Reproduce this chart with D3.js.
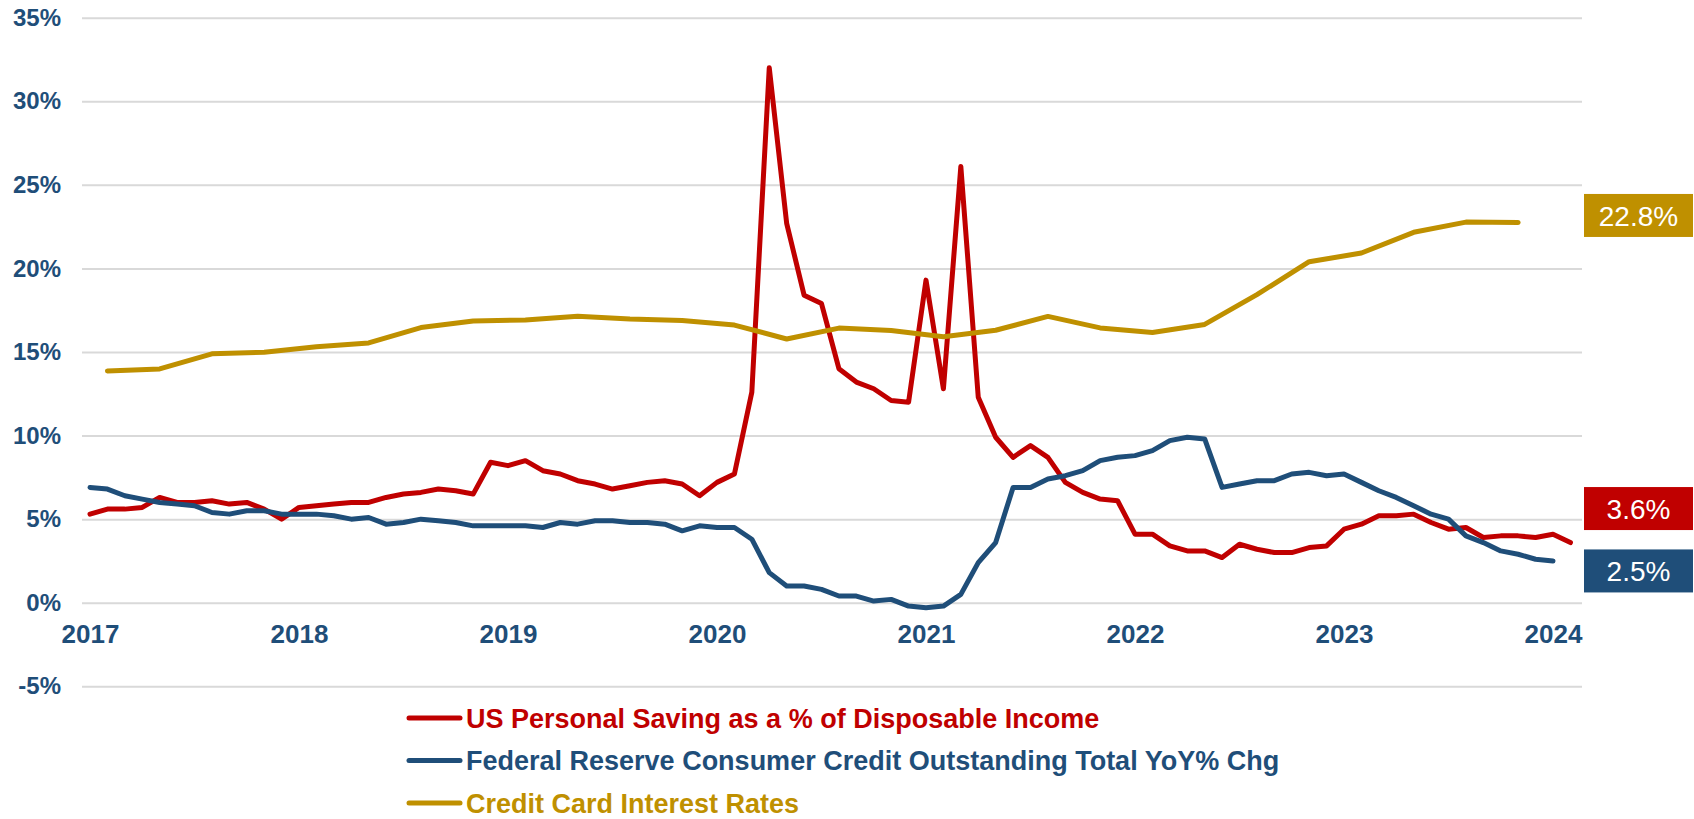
<!DOCTYPE html>
<html>
<head>
<meta charset="utf-8">
<script src="https://cdn.jsdelivr.net/npm/d3@7"></script>
<style>
  body { margin: 0; background: #fff; }
  svg { display: block; font-family: "Liberation Sans", Arial, sans-serif; }
</style>
</head>
<body>
<div id="chart"></div>
<script>
// monthly categories, Jan 2017 .. Feb 2024
const months = d3.utcMonth
    .range(new Date(Date.UTC(2017, 0, 1)), new Date(Date.UTC(2024, 2, 1)))
    .map(d3.utcFormat("%Y-%m"));

const yearTicks = ["2017-01", "2018-01", "2019-01", "2020-01", "2021-01", "2022-01", "2023-01", "2024-01"];
const yTicks = [-5, 0, 5, 10, 15, 20, 25, 30, 35];

// US personal saving rate, % of disposable income (Jan 2017 .. Feb 2024)
const savingRate = [
    5.3, 5.6, 5.6, 5.7, 6.3, 6.0, 6.0, 6.1, 5.9, 6.0, 5.6, 5.0,
    5.7, 5.8, 5.9, 6.0, 6.0, 6.3, 6.5, 6.6, 6.8, 6.7, 6.5, 8.4,
    8.2, 8.5, 7.9, 7.7, 7.3, 7.1, 6.8, 7.0, 7.2, 7.3, 7.1, 6.4,
    7.2, 7.7, 12.6, 32.0, 22.7, 18.4, 17.9, 14.0, 13.2, 12.8, 12.1, 12.0,
    19.3, 12.8, 26.1, 12.3, 9.9, 8.7, 9.4, 8.7, 7.2, 6.6, 6.2, 6.1,
    4.1, 4.1, 3.4, 3.1, 3.1, 2.7, 3.5, 3.2, 3.0, 3.0, 3.3, 3.4,
    4.4, 4.7, 5.2, 5.2, 5.3, 4.8, 4.4, 4.5, 3.9, 4.0, 4.0, 3.9,
    4.1, 3.6
];

// Fed consumer credit outstanding, total, YoY % (Jan 2017 .. Jan 2024)
const creditGrowth = [
    6.9, 6.8, 6.4, 6.2, 6.0, 5.9, 5.8, 5.4, 5.3, 5.5, 5.5, 5.3,
    5.3, 5.3, 5.2, 5.0, 5.1, 4.7, 4.8, 5.0, 4.9, 4.8, 4.6, 4.6,
    4.6, 4.6, 4.5, 4.8, 4.7, 4.9, 4.9, 4.8, 4.8, 4.7, 4.3, 4.6,
    4.5, 4.5, 3.8, 1.8, 1.0, 1.0, 0.8, 0.4, 0.4, 0.1, 0.2, -0.2,
    -0.3, -0.2, 0.5, 2.4, 3.6, 6.9, 6.9, 7.4, 7.6, 7.9, 8.5, 8.7,
    8.8, 9.1, 9.7, 9.9, 9.8, 6.9, 7.1, 7.3, 7.3, 7.7, 7.8, 7.6,
    7.7, 7.2, 6.7, 6.3, 5.8, 5.3, 5.0, 4.0, 3.6, 3.1, 2.9, 2.6,
    2.5
];

// credit card interest rates, quarterly
const cardRateMonths = [
    "2017-02", "2017-05", "2017-08", "2017-11", "2018-02", "2018-05", "2018-08", "2018-11",
    "2019-02", "2019-05", "2019-08", "2019-11", "2020-02", "2020-05", "2020-08", "2020-11",
    "2021-02", "2021-05", "2021-08", "2021-11", "2022-02", "2022-05", "2022-08", "2022-11",
    "2023-02", "2023-05", "2023-08", "2023-11"
];
const cardRate = [
    13.87, 13.99, 14.89, 14.99, 15.32, 15.54, 16.46, 16.86,
    16.91, 17.14, 16.97, 16.88, 16.61, 15.78, 16.43, 16.28,
    15.91, 16.30, 17.13, 16.44, 16.17, 16.65, 18.43, 20.40,
    20.92, 22.16, 22.77, 22.75
];

const seriesNames = [
    "US Personal Saving as a % of Disposable Income",
    "Federal Reserve Consumer Credit Outstanding Total YoY% Chg",
    "Credit Card Interest Rates"
];
const seriesColors = ["#C00000", "#1F4E79", "#BF9000"];
const endLabels = ["3.6%", "2.5%", "22.8%"];

const axisColor = "#1F4E79";
const W = 1694, H = 819;

const svg = d3.select("#chart").append("svg")
    .attr("width", W).attr("height", H);

const plotLeft = 82, plotRight = 1582;
const x = d3.scalePoint().domain(months).range([90, 90 + 85 * 209 / 12]);
const y = d3.scaleLinear().domain([-5, 35]).range([686.3, 17.7]);

// horizontal gridlines + y labels
const yAxis = svg.append("g")
    .attr("transform", `translate(${plotLeft},0)`)
    .call(d3.axisLeft(y).tickValues(yTicks)
        .tickSize(-(plotRight - plotLeft)).tickPadding(21)
        .tickFormat(d => d + "%"));
yAxis.select(".domain").remove();
yAxis.selectAll(".tick line").attr("stroke", "#d9d9d9").attr("stroke-width", 2);
yAxis.selectAll(".tick text")
    .attr("fill", axisColor).style("font-size", "24px").style("font-weight", "bold");

// year labels under the zero line
const xAxis = svg.append("g")
    .attr("transform", `translate(0,${y(0)})`)
    .call(d3.axisBottom(x).tickValues(yearTicks).tickSize(0).tickPadding(22)
        .tickFormat(d => d.slice(0, 4)));
xAxis.select(".domain").remove();
xAxis.selectAll(".tick text")
    .attr("fill", axisColor).style("font-size", "26px").style("font-weight", "bold");

const line = d3.line().x(d => x(d[0])).y(d => y(d[1]));

const seriesData = [
    savingRate.map((v, i) => [months[i], v]),
    creditGrowth.map((v, i) => [months[i], v]),
    cardRate.map((v, i) => [cardRateMonths[i], v])
];

seriesData.forEach((pts, i) => {
    svg.append("path")
        .attr("d", line(pts))
        .attr("fill", "none")
        .attr("stroke", seriesColors[i])
        .attr("stroke-width", 5)
        .attr("stroke-linejoin", "round")
        .attr("stroke-linecap", "round");
});

// value boxes on the right, nudged apart so they don't overlap
const labelNudge = [-34, 10, -7];
seriesData.forEach((pts, i) => {
    const last = pts[pts.length - 1];
    const cy = y(last[1]) + labelNudge[i];
    const g = svg.append("g").attr("transform", `translate(1584,${cy})`);
    g.append("rect").attr("x", 0).attr("y", -21.5).attr("width", 109).attr("height", 43)
        .attr("fill", seriesColors[i]);
    g.append("text").attr("x", 54.5).attr("dy", "0.36em")
        .attr("text-anchor", "middle").attr("fill", "#fff")
        .style("font-size", "28px")
        .text(endLabels[i]);
});

// legend
const legend = svg.append("g").attr("transform", "translate(407,718)");
seriesNames.forEach((name, i) => {
    const g = legend.append("g").attr("transform", `translate(0,${i * 42.5})`);
    g.append("line").attr("x1", 2).attr("x2", 53)
        .attr("stroke", seriesColors[i]).attr("stroke-width", 5).attr("stroke-linecap", "round");
    g.append("text").attr("x", 59).attr("dy", "0.36em")
        .attr("fill", seriesColors[i])
        .style("font-size", "27px").style("font-weight", "bold")
        .text(name);
});
</script>
</body>
</html>
